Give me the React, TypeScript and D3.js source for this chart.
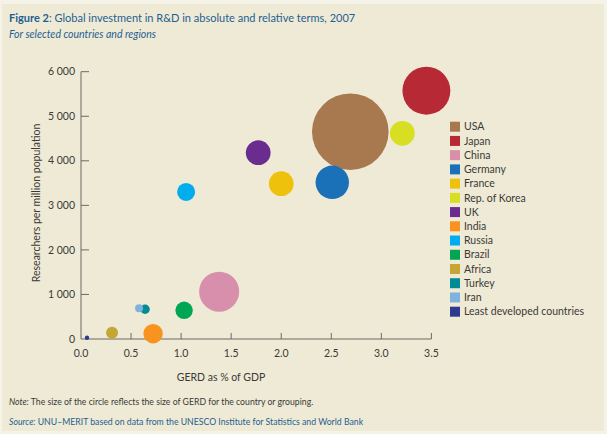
import React from "react";
import * as d3 from "d3";

const countries = ["USA", "Japan", "China", "Germany", "France", "Rep. of Korea", "UK", "India", "Russia", "Brazil", "Africa", "Turkey", "Iran", "Least developed countries"];
const gerdPct = [2.69, 3.45, 1.38, 2.51, 2.0, 3.21, 1.77, 0.72, 1.05, 1.03, 0.31, 0.64, 0.58, 0.06];
const researchers = [4653, 5573, 1062, 3517, 3486, 4617, 4182, 119, 3300, 644, 141, 667, 689, 29];
const gerdSize = [373, 146, 102, 71, 39, 39, 39, 24, 20.6, 19.2, 9.2, 5.6, 4.1, 1.2];
const colors = ["#a8784f", "#b72a35", "#d88fab", "#1a71b8", "#eec20c", "#d8df22", "#6a2d8f", "#f7931e", "#00aeef", "#00a651", "#c5a634", "#008b95", "#7fb2dd", "#2e3a8f"];
const xTicks = [0, 0.5, 1.0, 1.5, 2.0, 2.5, 3.0, 3.5];
const yTicks = [0, 1000, 2000, 3000, 4000, 5000, 6000];

const FONT = "Lato, 'Open Sans', sans-serif";

export default function App() {
  const x = d3.scaleLinear().domain([0, 3.5]).range([81, 431.4]);
  const y = d3.scaleLinear().domain([0, 6000]).range([339, 71.7]);
  const r = d3.scaleSqrt().domain([0, 373]).range([0, 38.3]);
  const fmt = (v: number) => (v === 0 ? "0" : d3.format(",")(v).replace(",", " "));
  const order = d3.range(countries.length).sort((a, b) => gerdSize[b] - gerdSize[a]);
  const axisColor = "#6b6b63";
  const textColor = "#3a3a36";
  const blue = "#1e5f91";

  return (
    <svg width={607} height={434} style={{ position: "absolute", left: 0, top: 0 }} fontFamily={FONT}>
      <rect x={0} y={0} width={607} height={434} fill="#f5f2e7" />
      <rect x={2} y={4} width={602} height={427} fill="#efead6" />
      <text x={9} y={22} fontSize={11} fill={blue}>
        <tspan fontWeight="bold">Figure 2</tspan>
        <tspan>: Global investment in R&amp;D in absolute and relative terms, 2007</tspan>
      </text>
      <text x={9} y={38} fontSize={10.5} fill={blue} fontStyle="italic">For selected countries and regions</text>

      {yTicks.map((t) => (
        <g key={"y" + t}>
          {t > 0 && <line x1={x(0)} x2={x(0) + 8} y1={y(t)} y2={y(t)} stroke={axisColor} strokeWidth={1} />}
          <text x={75} y={y(t)} dy="0.35em" textAnchor="end" fontSize={10.5} fill={textColor}>{fmt(t)}</text>
        </g>
      ))}
      {xTicks.map((t) => (
        <g key={"x" + t}>
          {t > 0 && <line x1={x(t)} x2={x(t)} y1={y(0)} y2={y(0) - 6} stroke={axisColor} strokeWidth={1} />}
          <text x={x(t)} y={353} dy="0.35em" textAnchor="middle" fontSize={10.5} fill={textColor}>{d3.format(".1f")(t)}</text>
        </g>
      ))}
      <line x1={x(0)} x2={x(0)} y1={y(6000)} y2={y(0)} stroke={axisColor} strokeWidth={1} />
      <line x1={x(0)} x2={x(3.5)} y1={y(0)} y2={y(0)} stroke={axisColor} strokeWidth={1} />

      <text x={221} y={377} dy="0.35em" textAnchor="middle" fontSize={10.5} fill={textColor}>GERD as % of GDP</text>
      <text transform="translate(36,203) rotate(-90)" textAnchor="middle" dy="0.35em" fontSize={10.5} fill={textColor}>Researchers per million population</text>

      {order.map((i) => (
        <circle key={countries[i]} cx={x(gerdPct[i])} cy={y(researchers[i])} r={r(gerdSize[i])} fill={colors[i]} />
      ))}

      {countries.map((c, i) => (
        <g key={"l" + c} transform={`translate(450,${126.7 + i * 14.23})`}>
          <rect x={0} y={-5} width={10} height={10} fill={colors[i]} />
          <text x={14} y={0} dy="0.35em" fontSize={10.5} fill={textColor}>{c}</text>
        </g>
      ))}

      <text x={9} y={405} fontSize={8.7} fill={textColor}>
        <tspan fontStyle="italic">Note:</tspan>
        <tspan> The size of the circle reflects the size of GERD for the country or grouping.</tspan>
      </text>
      <text x={9} y={425} fontSize={8.7} fill={blue}>
        <tspan fontStyle="italic">Source:</tspan>
        <tspan> UNU–MERIT based on data from the UNESCO Institute for Statistics and World Bank</tspan>
      </text>
    </svg>
  );
}
